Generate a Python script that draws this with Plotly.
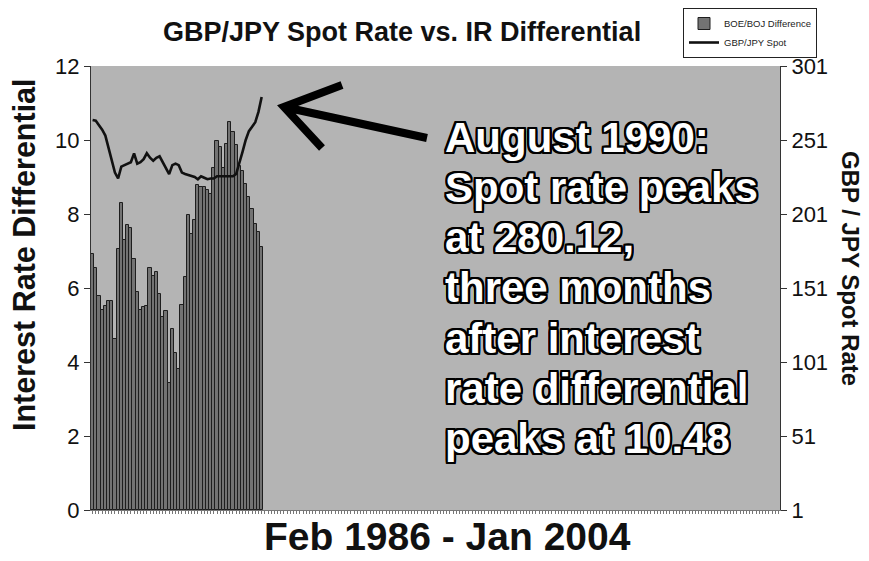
import pandas as pd
import plotly.graph_objects as go

# ---- data ----
months = [d.strftime("%b %Y") for d in pd.date_range("1986-02-01", "2004-01-01", freq="MS")]

ir_diff = [6.92, 6.53, 5.79, 5.41, 5.52, 5.64, 5.64, 4.63, 7.06, 8.31,
           7.29, 7.69, 7.63, 6.79, 5.88, 5.41, 5.48, 5.52, 6.53, 6.33,
           6.44, 5.83, 5.22, 5.38, 3.42, 4.89, 4.23, 3.82, 5.54, 6.29,
           7.96, 7.47, 7.83, 8.78, 8.74, 8.72, 8.64, 8.55, 9.23, 9.97,
           9.82, 9.23, 9.88, 10.48, 10.21, 9.86, 9.30, 9.16, 8.82, 8.46,
           8.13, 7.74, 7.51, 7.10]

spot = [264.5, 264.0, 261.0, 258.0, 254.0, 246.0, 237.0, 229.0, 225.0, 233.0,
        234.0, 235.0, 236.0, 242.0, 235.0, 236.0, 238.0, 242.0, 239.0, 237.0,
        239.0, 240.0, 236.0, 232.0, 228.0, 234.0, 235.0, 234.0, 229.0, 228.0,
        227.5, 227.0, 226.0, 224.5, 226.5, 225.5, 224.5, 225.0, 225.0, 226.5,
        226.5, 227.0, 226.5, 227.0, 226.5, 228.0, 235.0, 243.0, 251.0, 257.0,
        260.0, 263.0, 270.0, 280.12]

left_ticks = [0, 2, 4, 6, 8, 10, 12]
right_ticks = [1, 51, 101, 151, 201, 251, 301]

note_lines = ["August 1990:", "Spot rate peaks", "at 280.12,", "three months",
              "after interest", "rate differential", "peaks at 10.48"]

# ---- layout geometry (pixels) ----
W, H = 869, 561
L, R, T, B = 91, 780, 66, 510


def px_x(x):
    return (x - L) / (R - L)


def px_y(y):
    return (B - y) / (B - T)


n = len(ir_diff)
fig = go.Figure()
fig.add_trace(go.Bar(
    x=months[:n], y=ir_diff, name="BOE/BOJ Difference",
    marker=dict(color="#737373", line=dict(color="#1e1e1e", width=1)),
    yaxis="y",
))
fig.add_trace(go.Scatter(
    x=months[:len(spot)], y=spot, name="GBP/JPY Spot", mode="lines",
    line=dict(color="#111111", width=2.6), yaxis="y2",
))

base_font = "Liberation Sans, Arial, sans-serif"

outline = ", ".join(f"{dx}px {dy}px 0 #000" for dx, dy in
                    [(-2, -2), (-2, 0), (-2, 2), (0, -2), (0, 2), (2, -2), (2, 0), (2, 2),
                     (-1, -2), (1, -2), (-1, 2), (1, 2), (-2, -1), (-2, 1), (2, -1), (2, 1)])

annotations = []
for k, line in enumerate(note_lines):
    annotations.append(dict(
        xref="paper", yref="paper", x=px_x(443), y=px_y(137 + 50.3 * k),
        xanchor="left", yanchor="middle", showarrow=False, text=line,
        font=dict(family=base_font, size=42, color="white", weight="bold", shadow=outline),
    ))

annotations += [
    dict(xref="paper", yref="paper", x=px_x(402), y=px_y(32), text="<b>GBP/JPY Spot Rate vs. IR Differential</b>",
         showarrow=False, xanchor="center", yanchor="middle",
         font=dict(family=base_font, size=27, color="#111")),
    dict(xref="paper", yref="paper", x=px_x(447), y=px_y(536), text="<b>Feb 1986 - Jan 2004</b>",
         showarrow=False, xanchor="center", yanchor="middle",
         font=dict(family=base_font, size=39, color="#111")),
    dict(xref="paper", yref="paper", x=px_x(24), y=px_y(255), text="<b>Interest Rate Differential</b>",
         showarrow=False, xanchor="center", yanchor="middle", textangle=-90,
         font=dict(family=base_font, size=30.5, color="#111")),
    dict(xref="paper", yref="paper", x=px_x(851), y=px_y(268), text="<b>GBP / JPY Spot Rate</b>",
         showarrow=False, xanchor="center", yanchor="middle", textangle=90,
         font=dict(family=base_font, size=24, color="#111")),
]

tail, tip, arm1, arm2 = (427, 138), (284, 107), (342, 85), (322, 148)


def pt(p):
    return f"{px_x(p[0]):.5f},{px_y(p[1]):.5f}"


arrow_path = f"M {pt(tail)} L {pt(tip)} M {pt(arm1)} L {pt(tip)} L {pt(arm2)}"

fig.update_layout(
    width=W, height=H,
    margin=dict(l=L, r=W - R, t=T, b=H - B, pad=0, autoexpand=False),
    paper_bgcolor="white", plot_bgcolor="#b4b4b4",
    bargap=0.0,
    showlegend=True,
    legend=dict(x=px_x(683), y=px_y(8), xanchor="left", yanchor="top",
                bgcolor="white", bordercolor="#222", borderwidth=1,
                font=dict(family=base_font, size=9.5, color="#222"),
                itemwidth=30, tracegroupgap=0),
    xaxis=dict(type="category", categoryorder="array", categoryarray=months,
               range=[-0.5, len(months) - 0.5], showticklabels=False,
               ticks="outside", ticklen=3, tickcolor="#777", tickwidth=1,
               tickmode="linear", tick0=0, dtick=1, automargin=False,
               showline=True, linecolor="#777", linewidth=1, showgrid=False, zeroline=False),
    yaxis=dict(range=[0, 12], tickvals=left_ticks, ticks="outside", ticklen=6,
               tickcolor="#333", showline=True, linecolor="#333", linewidth=1,
               showgrid=False, zeroline=False, automargin=False,
               tickfont=dict(family=base_font, size=22, color="#111")),
    yaxis2=dict(range=[1, 301], tickvals=right_ticks, overlaying="y", side="right",
                ticks="outside", ticklen=6, tickcolor="#333", showline=True,
                linecolor="#333", linewidth=1, showgrid=False, zeroline=False,
                automargin=False,
                tickfont=dict(family=base_font, size=22, color="#111")),
    annotations=annotations,
    shapes=[dict(type="path", xref="paper", yref="paper", path=arrow_path,
                 line=dict(color="black", width=8))],
)

fig.write_html("out.html", config={"displayModeBar": False},
               post_script="document.body.style.margin='0';")
